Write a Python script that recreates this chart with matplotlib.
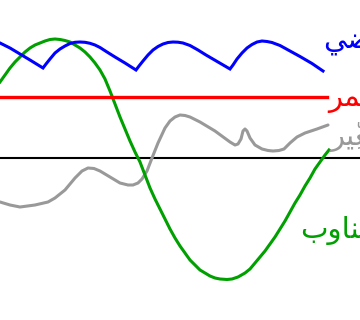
import numpy as np
import matplotlib
matplotlib.use('Agg')
import matplotlib.pyplot as plt

# picture coordinates (pixels, y grows downward)
blue_x = [0, 10, 20, 30, 43, 46, 50, 55, 60, 65, 70, 75, 80, 85, 90, 95, 100, 107, 115, 125,
          136, 139, 143, 148, 153, 158, 163, 168, 173, 178, 183, 190, 198, 206, 218,
          230, 233, 237, 242, 247, 252, 257, 262, 267, 272, 280, 290, 300, 312, 323]
blue_y = [43, 48, 54, 60, 68, 64, 59, 53, 49, 46, 43.5, 42.3, 42, 42.3, 43.3, 45, 47.5, 52, 57, 63,
          70, 66, 61, 55, 50, 46.5, 44, 42.5, 42, 42.2, 43, 45.5, 50, 55, 62,
          69, 65, 59, 53, 48, 44.5, 42, 41, 41.5, 42.5, 45.5, 51, 56.5, 63.5, 71]

red_x = [0, 327]
red_y = [97, 97]

gray_x = [0, 10, 20, 35, 48, 55, 65, 75, 82, 88, 94, 100, 110, 120, 128, 133, 138, 142, 147, 152,
          158, 165, 170, 175, 180, 185, 190, 200, 215, 230, 235, 238, 241, 243, 245, 247, 250,
          255, 262, 268, 273, 279, 284, 290, 297, 305, 317, 328]
gray_y = [202, 205, 207, 205, 202, 198, 190, 178, 171, 168, 168.5, 171, 177, 183, 185, 185, 183, 179, 171, 158,
          143, 128, 121, 117, 115, 115.5, 117, 122, 131, 142, 145, 144, 139, 131, 129, 131, 138,
          145, 149, 150.5, 151, 150.5, 149, 143, 137, 133, 129, 125]

green_x = [0, 5, 10, 15, 20, 25, 30, 35, 40, 45, 50, 55, 60, 65, 70, 75, 80, 85, 90, 95,
           100, 105, 110, 115, 120, 125, 130, 135, 140, 145, 150, 155, 160, 165, 170, 175, 180,
           185, 190, 195, 200, 205, 210, 215, 220, 227, 232, 238, 245, 250, 255, 260, 265, 270,
           275, 280, 285, 290, 295, 300, 305, 310, 315, 320, 325, 329]
green_y = [82, 75, 68, 62, 57, 52, 48, 45, 43, 41, 39.5, 39, 39.5, 40.5, 42, 45, 48, 52, 57, 63,
           70, 79, 91, 104, 117, 129, 141, 152, 162, 175, 188, 199, 209, 219, 229, 238, 246,
           253, 260, 265, 270, 273, 276, 278, 279, 279.5, 279, 277, 273, 269, 263, 257, 251, 244,
           237, 229, 221, 212, 203, 195, 186, 178, 169, 162, 155, 150]

axis_y = 158

labels = ['نبضي', 'مستمر', 'متغيِّر', 'متناوب']
label_x = [323, 328, 330, 300]
label_y = [48, 106, 145, 238]
colors = ['#0000ff', '#ff0000', '#999999', '#00a000']

# matplotlib has no arabic shaping: pick presentation forms and lay out right to left
FORMS = {
    'ا': ('\ufe8d', '\ufe8e'),
    'ب': ('\ufe8f', '\ufe90', '\ufe91', '\ufe92'),
    'ت': ('\ufe95', '\ufe96', '\ufe97', '\ufe98'),
    'ر': ('\ufead', '\ufeae'),
    'س': ('\ufeb1', '\ufeb2', '\ufeb3', '\ufeb4'),
    'ض': ('\ufebd', '\ufebe', '\ufebf', '\ufec0'),
    'غ': ('\ufecd', '\ufece', '\ufecf', '\ufed0'),
    'م': ('\ufee1', '\ufee2', '\ufee3', '\ufee4'),
    'ن': ('\ufee5', '\ufee6', '\ufee7', '\ufee8'),
    'و': ('\ufeed', '\ufeee'),
    'ي': ('\ufef1', '\ufef2', '\ufef3', '\ufef4'),
}
MARKS = '\u064b\u064c\u064d\u064e\u064f\u0650\u0651\u0652'


def shape(word):
    clusters = []
    for ch in word:
        if ch in MARKS and clusters:
            clusters[-1][1] += ch
        else:
            clusters.append([ch, ''])
    out = []
    for i, (ch, marks) in enumerate(clusters):
        forms = FORMS.get(ch)
        if forms is None:
            out.append(ch + marks)
            continue
        prev = clusters[i - 1][0] if i > 0 else None
        nxt = clusters[i + 1][0] if i + 1 < len(clusters) else None
        jp = prev is not None and len(FORMS.get(prev, ())) == 4
        jn = nxt in FORMS and len(forms) == 4
        if jp and jn:
            g = forms[3]
        elif jp:
            g = forms[1]
        elif jn:
            g = forms[2]
        else:
            g = forms[0]
        out.append(g + marks)
    return ''.join(reversed(out))


fig = plt.figure(figsize=(3.6, 3.2), dpi=100)
ax = fig.add_axes([0, 0, 1, 1])
ax.set_xlim(0, 360)
ax.set_ylim(320, 0)
ax.axis('off')

ax.axhline(axis_y, color='black', lw=1.5)
ax.plot(gray_x, gray_y, color=colors[2], lw=2.2, solid_capstyle='round')
ax.plot(green_x, green_y, color=colors[3], lw=2.2)
ax.plot(red_x, red_y, color=colors[1], lw=2.4)
ax.plot(blue_x, blue_y, color=colors[0], lw=2.2, solid_joinstyle='miter')

for txt, x, y, c in zip(labels, label_x, label_y, colors):
    ax.text(x, y, shape(txt), color=c, fontsize=21, family='DejaVu Sans',
            ha='left', va='baseline')

fig.savefig('out.png', dpi=100)
